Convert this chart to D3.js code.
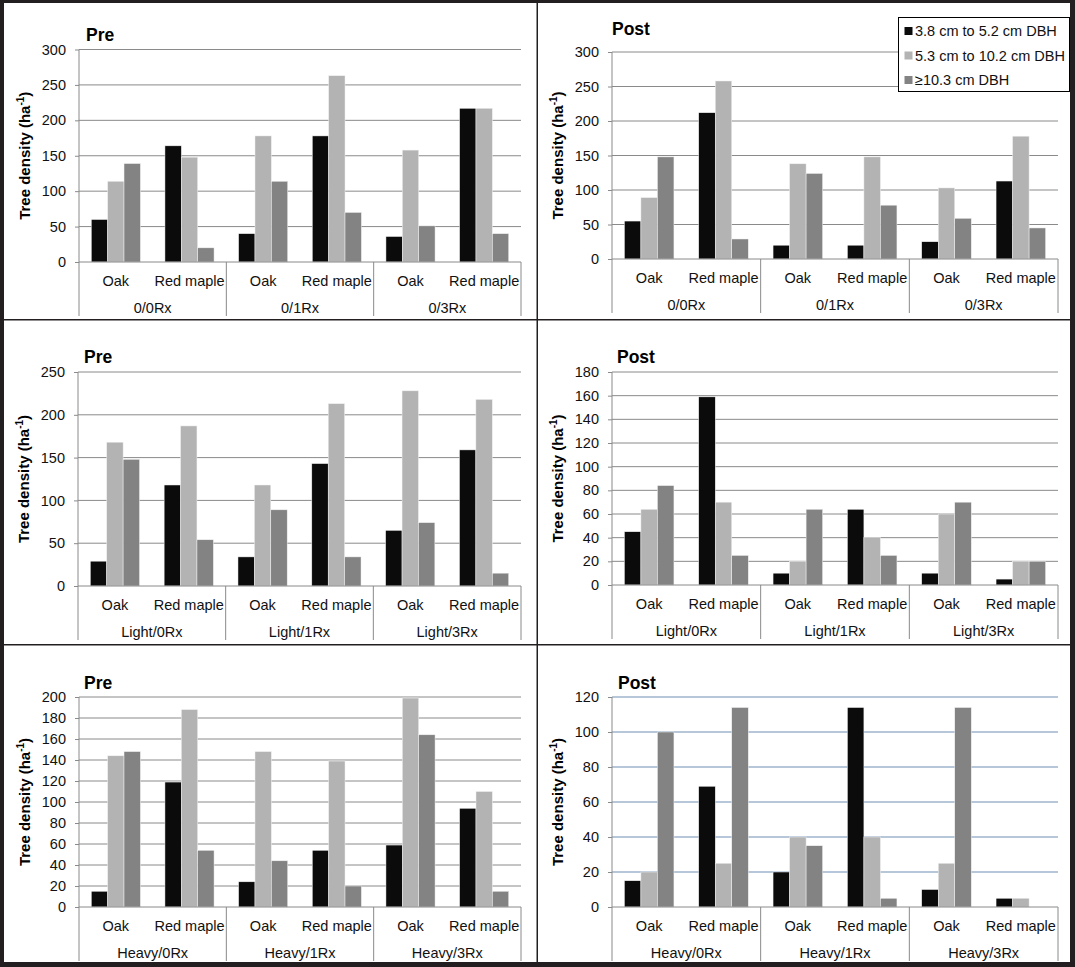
<!DOCTYPE html>
<html>
<head>
<meta charset="utf-8">
<script src="https://cdn.jsdelivr.net/npm/d3@7"></script>
<style>
  body { margin: 0; background: #231f20; }
  svg { display: block; font-family: "Liberation Sans", Arial, sans-serif; }
</style>
</head>
<body>
<div id="chart"></div>
<script>
// size classes (series) and species within each treatment
const sizeClasses = ["3.8 cm to 5.2 cm DBH", "5.3 cm to 10.2 cm DBH", "\u226510.3 cm DBH"];
const sizeColors = ["#0b0b0b", "#b3b3b3", "#838383"];
const species = ["Oak", "Red maple"];

const groupsNone = ["0/0Rx", "0/1Rx", "0/3Rx"];
const groupsLight = ["Light/0Rx", "Light/1Rx", "Light/3Rx"];
const groupsHeavy = ["Heavy/0Rx", "Heavy/1Rx", "Heavy/3Rx"];

// values per slot: [Oak, Red maple] for each group, each as [small, medium, large]
const preNone = [[60, 114, 139], [164, 148, 20], [40, 178, 114], [178, 263, 70], [36, 158, 51], [217, 217, 40]];
const postNone = [[55, 89, 148], [212, 258, 29], [20, 138, 124], [20, 148, 78], [25, 103, 59], [113, 178, 45]];
const preLight = [[29, 168, 148], [118, 187, 54], [34, 118, 89], [143, 213, 34], [65, 228, 74], [159, 218, 15]];
const postLight = [[45, 64, 84], [159, 70, 25], [10, 20, 64], [64, 40, 25], [10, 60, 70], [5, 20, 20]];
const preHeavy = [[15, 144, 148], [119, 188, 54], [24, 148, 44], [54, 139, 20], [59, 199, 164], [94, 110, 15]];
const postHeavy = [[15, 20, 100], [69, 25, 114], [20, 40, 35], [114, 40, 5], [10, 25, 114], [5, 5, 0]];

const ticks300 = [0, 50, 100, 150, 200, 250, 300];
const ticks250 = [0, 50, 100, 150, 200, 250];
const ticks180 = [0, 20, 40, 60, 80, 100, 120, 140, 160, 180];
const ticks200 = [0, 20, 40, 60, 80, 100, 120, 140, 160, 180, 200];
const ticks120 = [0, 20, 40, 60, 80, 100, 120];

const W = 1075, H = 967;

const svg = d3.select("#chart").append("svg")
  .attr("width", W)
  .attr("height", H);

// dark frame, white panels
svg.append("rect").attr("width", W).attr("height", H).attr("fill", "#231f20");
const cols = [[4, 536.5], [538, 1070]];
const rows = [[3, 319], [320.5, 644], [645.5, 962]];
rows.forEach(r => cols.forEach(c => {
  svg.append("rect")
    .attr("x", c[0]).attr("y", r[0])
    .attr("width", c[1] - c[0]).attr("height", r[1] - r[0])
    .attr("fill", "#fff");
}));

const panels = [
  { title: "Pre", tx: 86, ty: 41, left: 79, right: 521, top: 49.5, bottom: 262, ticks: ticks300, groups: groupsNone, values: preNone, grid: "#8a8a8a", labelX: 30 },
  { title: "Post", tx: 612, ty: 35, left: 612, right: 1058, top: 52, bottom: 259, ticks: ticks300, groups: groupsNone, values: postNone, grid: "#8a8a8a", labelX: 563, legend: true },
  { title: "Pre", tx: 84, ty: 363, left: 78, right: 521, top: 372, bottom: 586, ticks: ticks250, groups: groupsLight, values: preLight, grid: "#8a8a8a", labelX: 29 },
  { title: "Post", tx: 617, ty: 363, left: 612, right: 1058, top: 372, bottom: 585, ticks: ticks180, groups: groupsLight, values: postLight, grid: "#8a8a8a", labelX: 563 },
  { title: "Pre", tx: 84, ty: 689, left: 79, right: 521, top: 697, bottom: 907, ticks: ticks200, groups: groupsHeavy, values: preHeavy, grid: "#8a8a8a", labelX: 30 },
  { title: "Post", tx: 618, ty: 689, left: 612, right: 1058, top: 697, bottom: 907, ticks: ticks120, groups: groupsHeavy, values: postHeavy, grid: "#6f8fb3", labelX: 563 }
];

panels.forEach(p => {
  const g = svg.append("g");
  const slots = [];
  p.groups.forEach(gr => species.forEach(sp => slots.push(gr + "|" + sp)));

  const y = d3.scaleLinear()
    .domain([0, d3.max(p.ticks)])
    .range([p.bottom, p.top]);

  const x0 = d3.scaleBand()
    .domain(slots)
    .range([p.left, p.right])
    .padding(0);

  const x1 = d3.scaleBand()
    .domain(d3.range(sizeClasses.length))
    .range([0, x0.bandwidth()])
    .paddingInner(0)
    .paddingOuter(0.75);

  // gridlines
  g.selectAll(".grid")
    .data(p.ticks.filter(t => t > 0))
    .enter().append("line")
      .attr("x1", p.left).attr("x2", p.right)
      .attr("y1", d => y(d)).attr("y2", d => y(d))
      .attr("stroke", p.grid)
      .attr("stroke-width", 1);

  // y axis ticks
  const ax = g.append("g")
    .attr("transform", `translate(${p.left},0)`)
    .call(d3.axisLeft(y).tickValues(p.ticks).tickSize(4).tickPadding(9).tickSizeOuter(0));
  ax.select(".domain").remove();
  ax.selectAll(".tick line").attr("stroke", "#8a8a8a");
  ax.selectAll(".tick text")
    .attr("fill", "#111")
    .style("font-size", "14.5px")
    .style("font-family", "Liberation Sans, Arial, sans-serif");

  // bars
  const slotG = g.selectAll(".slot")
    .data(p.values)
    .enter().append("g")
      .attr("transform", (d, i) => `translate(${x0(slots[i])},0)`);

  slotG.selectAll("rect")
    .data(d => d)
    .enter().append("rect")
      .attr("x", (d, i) => x1(i))
      .attr("y", d => y(d))
      .attr("width", x1.bandwidth())
      .attr("height", d => p.bottom - y(d))
      .attr("fill", (d, i) => sizeColors[i])
      .attr("stroke", "#f2f2f2")
      .attr("stroke-width", 0.5);

  // baseline and y axis line
  g.append("line")
    .attr("x1", p.left).attr("x2", p.right)
    .attr("y1", p.bottom).attr("y2", p.bottom)
    .attr("stroke", "#8a8a8a");
  g.append("line")
    .attr("x1", p.left).attr("x2", p.left)
    .attr("y1", p.top).attr("y2", p.bottom + 54)
    .attr("stroke", "#8a8a8a");

  // group separators
  const groupWidth = x0.bandwidth() * species.length;
  p.groups.forEach((gr, i) => {
    const xr = p.left + groupWidth * (i + 1);
    g.append("line")
      .attr("x1", xr).attr("x2", xr)
      .attr("y1", p.bottom).attr("y2", p.bottom + 54)
      .attr("stroke", "#8a8a8a");
    g.append("text")
      .attr("x", p.left + groupWidth * (i + 0.5))
      .attr("y", p.bottom + 51)
      .attr("text-anchor", "middle")
      .style("font-size", "14.5px")
      .attr("fill", "#111")
      .text(gr);
  });

  // species labels
  g.selectAll(".sp")
    .data(slots)
    .enter().append("text")
      .attr("x", d => x0(d) + x0.bandwidth() / 2)
      .attr("y", p.bottom + 24)
      .attr("text-anchor", "middle")
      .style("font-size", "14.5px")
      .attr("fill", "#111")
      .text(d => d.split("|")[1]);

  // title
  g.append("text")
    .attr("x", p.tx)
    .attr("y", p.ty)
    .style("font-size", "17.5px")
    .style("font-weight", "bold")
    .attr("fill", "#000")
    .text(p.title);

  // y label
  const lab = g.append("text")
    .attr("transform", `translate(${p.labelX},${(p.top + p.bottom) / 2}) rotate(-90)`)
    .attr("text-anchor", "middle")
    .style("font-size", "15px")
    .style("font-weight", "bold")
    .attr("fill", "#000");
  lab.append("tspan").text("Tree density (ha");
  lab.append("tspan").attr("dy", -6).style("font-size", "10px").text("-1");
  lab.append("tspan").attr("dy", 6).text(")");

  if (p.legend) {
    const lg = svg.append("g").attr("transform", "translate(898.5,17.5)");
    lg.append("rect")
      .attr("width", 171).attr("height", 74)
      .attr("fill", "#fff")
      .attr("stroke", "#000")
      .attr("stroke-width", 1);
    sizeClasses.forEach((s, i) => {
      const cy = 13.5 + i * 24.5;
      lg.append("rect")
        .attr("x", 6).attr("y", cy - 4)
        .attr("width", 8).attr("height", 8)
        .attr("fill", sizeColors[i]);
      lg.append("text")
        .attr("x", 16.5).attr("y", cy + 5)
        .style("font-size", "14.5px")
        .attr("fill", "#111")
        .text(s);
    });
  }
});
</script>
</body>
</html>
